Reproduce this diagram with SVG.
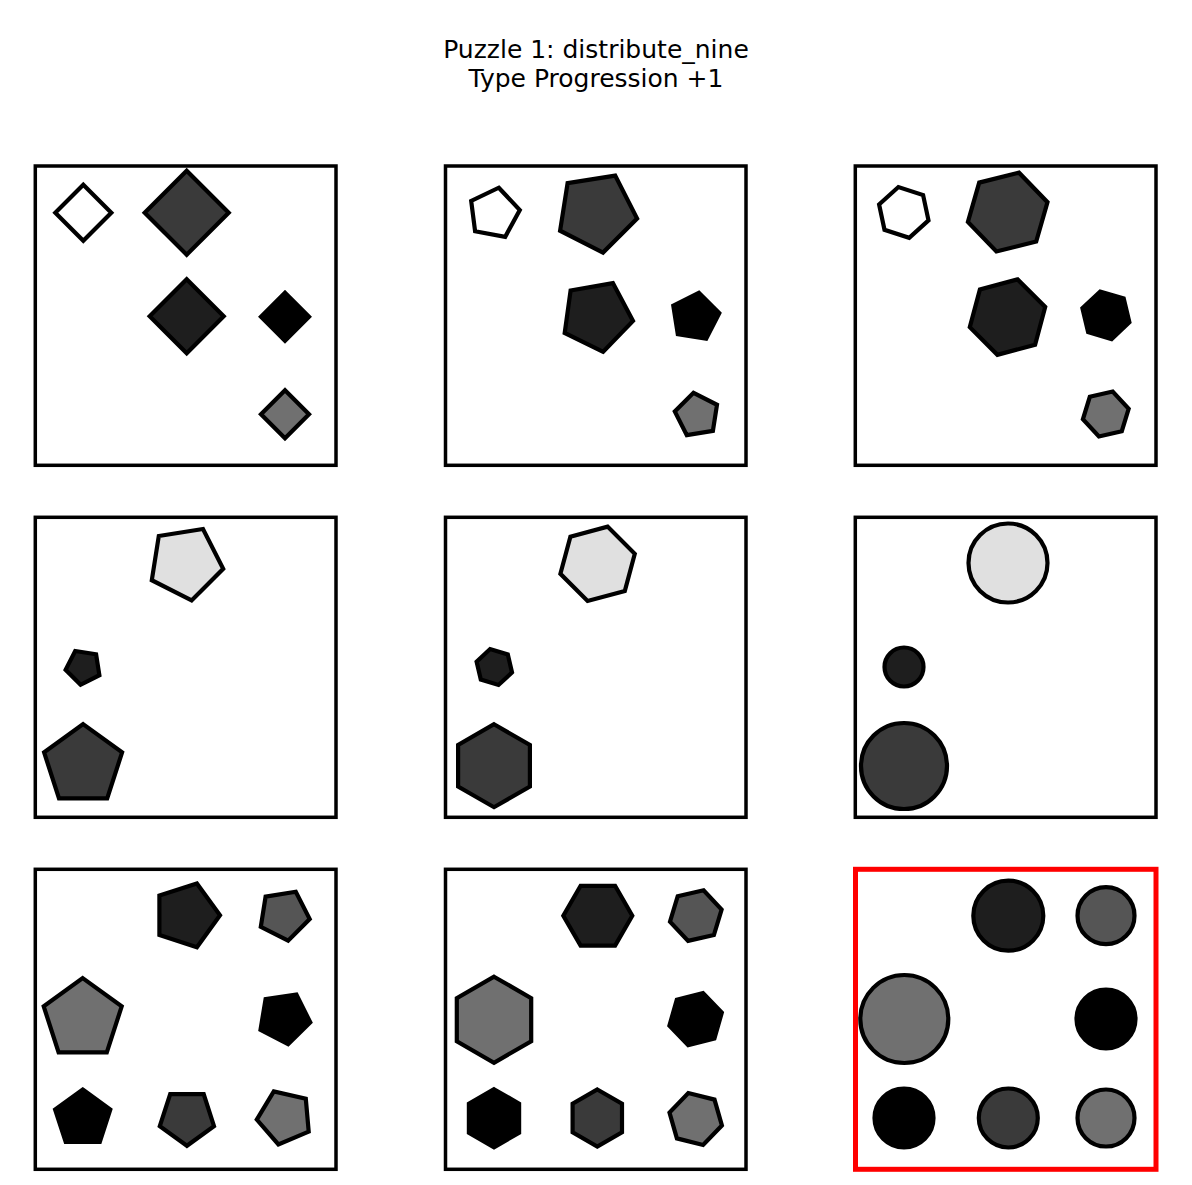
<svg xmlns="http://www.w3.org/2000/svg" width="1192" height="1185" viewBox="0 0 1192 1185">
<style>
.t{font-family:"DejaVu Sans",sans-serif;font-size:25px;fill:#000;text-anchor:middle}
.p{fill:none;stroke:#000;stroke-width:3.5}
.q{fill:none;stroke:#ff0000;stroke-width:5}
.s{stroke:#000;stroke-width:4.2;stroke-linejoin:miter}
.w{fill:#fff}.l{fill:#e0e0e0}.g{fill:#707070}.m{fill:#555555}.d{fill:#3a3a3a}.k{fill:#1e1e1e}.b{fill:#000}
</style>
<rect width="1192" height="1185" fill="#fff"/>
<g id="title">
<text class="t" x="596" y="58">Puzzle 1: distribute_nine</text>
<text class="t" x="596" y="87">Type Progression +1</text>
</g>
<g id="panel1">
<rect class="p" x="35.3" y="166" width="300.7" height="299.3"/>
<polygon class="s w" points="83.3,184.7 111.3,212.7 83.3,240.7 55.3,212.7"/>
<polygon class="s d" points="186.7,170.7 228.7,212.7 186.7,254.7 144.7,212.7"/>
<polygon class="s k" points="186.7,279.3 223.7,316.3 186.7,353.3 149.7,316.3"/>
<polygon class="s b" points="285,292.7 309,316.7 285,340.7 261,316.7"/>
<polygon class="s g" points="285,390.3 309,414.3 285,438.3 261,414.3"/>
</g>
<g id="panel2">
<rect class="p" x="445.5" y="166" width="300.5" height="299.3"/>
<polygon class="s w" points="498.8,187.7 519.8,210.0 505.2,236.8 475.1,231.2 471.2,200.9"/>
<polygon class="s d" points="603.0,252.6 560.1,230.7 567.6,183.1 615.2,175.6 637.1,218.5"/>
<polygon class="s k" points="603.2,351.8 564.7,333.0 570.6,290.5 612.9,283.1 633.0,321.0"/>
<polygon class="s b" points="706.2,338.7 677.8,334.2 673.3,305.8 698.9,292.7 719.3,313.1"/>
<polygon class="s g" points="712.9,430.9 686.8,435.1 674.8,411.5 693.5,392.8 717.0,404.8"/>
</g>
<g id="panel3">
<rect class="p" x="855.3" y="166" width="300.7" height="299.3"/>
<polygon class="s w" points="928.5,220.4 909.2,237.8 884.5,229.8 879.1,204.4 898.4,187.0 923.1,195.0"/>
<polygon class="s d" points="1047.5,202.2 1036.2,241.6 996.4,251.5 967.9,222.0 979.2,182.6 1019.0,172.7"/>
<polygon class="s k" points="1045.2,307.0 1035.1,344.7 997.4,354.8 969.8,327.2 979.9,289.5 1017.6,279.4"/>
<polygon class="s b" points="1129.4,322.3 1111.6,339.1 1088.1,332.2 1082.4,308.3 1100.2,291.5 1123.7,298.4"/>
<polygon class="s g" points="1128.7,408.7 1121.8,431.2 1098.9,436.5 1082.9,419.3 1089.8,396.8 1112.7,391.5"/>
</g>
<g id="panel4">
<rect class="p" x="35.3" y="517.3" width="300.7" height="300"/>
<polygon class="s l" points="191.6,600.4 151.8,580.2 158.8,536.0 203.0,529.0 223.2,568.8"/>
<polygon class="s k" points="80.6,684.8 65.6,669.8 75.2,651.0 96.1,654.3 99.4,675.2"/>
<polygon class="s d" points="83.1,724.1 122.1,752.4 107.2,798.3 59.0,798.3 44.1,752.4"/>
</g>
<g id="panel5">
<rect class="p" x="445.5" y="517.3" width="300.5" height="300"/>
<polygon class="s l" points="634.8,553.8 624.8,591.0 587.6,601.0 560.4,573.8 570.4,536.6 607.6,526.6"/>
<polygon class="s k" points="512.0,672.4 498.5,685.0 480.8,679.6 476.6,661.6 490.1,649.0 507.8,654.4"/>
<polygon class="s d" points="494,724.2 529.9,745.0 529.9,786.5 494,807.2 458.1,786.5 458.1,745.0"/>
</g>
<g id="panel6">
<rect class="p" x="855.3" y="517.3" width="300.7" height="300"/>
<circle class="s l" cx="1008" cy="563" r="39.5"/>
<circle class="s k" cx="904" cy="667" r="19.5"/>
<circle class="s d" cx="904" cy="766" r="43"/>
</g>
<g id="panel7">
<rect class="p" x="35.3" y="869.3" width="300.7" height="300"/>
<polygon class="s k" points="220.0,915.3 196.9,947.2 159.4,935.0 159.4,895.6 196.9,883.4"/>
<polygon class="s m" points="288.1,940.7 260.8,926.8 265.6,896.6 295.8,891.8 309.7,919.1"/>
<polygon class="s g" points="82.7,978.1 121.7,1006.4 106.8,1052.3 58.6,1052.3 43.7,1006.4"/>
<polygon class="s b" points="288.1,1044.2 260.5,1029.8 265.6,999.1 296.4,994.5 310.3,1022.4"/>
<polygon class="s b" points="82.7,1089.5 110.3,1109.5 99.8,1142.0 65.7,1142.0 55.1,1109.5"/>
<polygon class="s d" points="186.9,1145.8 159.8,1126.1 170.2,1094.2 203.7,1094.2 214.0,1126.1"/>
<polygon class="s g" points="308.7,1131.6 278.4,1144.5 256.8,1119.6 273.8,1091.4 305.8,1098.8"/>
</g>
<g id="panel8">
<rect class="p" x="445.5" y="869.3" width="300.5" height="300"/>
<polygon class="s k" points="632.3,915.7 615.1,945.6 580.6,945.6 563.3,915.7 580.6,885.8 615.1,885.8"/>
<polygon class="s m" points="721.6,909.6 713.9,935.0 688.1,940.9 670.0,921.6 677.7,896.2 703.6,890.3"/>
<polygon class="s g" points="494,976.7 531.2,998.2 531.2,1041.2 494,1062.7 456.8,1041.2 456.8,998.2"/>
<polygon class="s b" points="721.8,1012.7 714.4,1038.6 688.2,1045.2 669.4,1025.7 676.8,999.8 703.0,993.2"/>
<polygon class="s b" points="494,1089.2 519.1,1103.7 519.1,1132.7 494,1147.2 468.9,1132.7 468.9,1103.7"/>
<polygon class="s d" points="597.3,1089.5 622.0,1103.75 622.0,1132.25 597.3,1146.5 572.6,1132.25 572.6,1103.75"/>
<polygon class="s g" points="721.9,1125.5 703.1,1145.0 676.9,1138.4 669.5,1112.5 688.3,1093.0 714.5,1099.6"/>
</g>
<g id="panel9">
<rect class="q" x="855.5" y="869.3" width="300.5" height="300"/>
<circle class="s k" cx="1008.3" cy="915.7" r="35"/>
<circle class="s m" cx="1106" cy="915.7" r="28.5"/>
<circle class="s g" cx="904.3" cy="1019" r="44"/>
<circle class="s b" cx="1106" cy="1019" r="29.5"/>
<circle class="s b" cx="904" cy="1118" r="29.5"/>
<circle class="s d" cx="1008.3" cy="1118" r="29.5"/>
<circle class="s g" cx="1106" cy="1118" r="28.5"/>
</g>
</svg>
